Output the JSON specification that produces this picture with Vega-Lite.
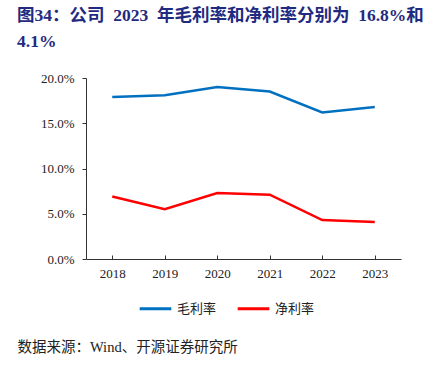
{
  "$schema": "https://vega.github.io/schema/vega-lite/v6.json",
  "width": 315,
  "height": 181,
  "autosize": {"type": "none"},
  "padding": {"left": 86, "top": 78, "right": 35, "bottom": 108},
  "background": "white",
  "config": {"view": {"stroke": null}},
  "title": {
    "text": ["图34：公司\u00a0\u00a02023\u00a0\u00a0年毛利率和净利率分别为\u00a0\u00a016.8%和", "4.1%"],
    "anchor": "start",
    "frame": "group",
    "font": "Liberation Serif, Noto Sans CJK SC",
    "fontSize": 17.5,
    "fontWeight": "bold",
    "color": "#1F2A80",
    "lineHeight": 26,
    "dx": -69,
    "offset": 22
  },
  "data": {
    "values": [
      {"year": "2018", "type": "毛利率", "value": 0.179},
      {"year": "2019", "type": "毛利率", "value": 0.181},
      {"year": "2020", "type": "毛利率", "value": 0.190},
      {"year": "2021", "type": "毛利率", "value": 0.185},
      {"year": "2022", "type": "毛利率", "value": 0.162},
      {"year": "2023", "type": "毛利率", "value": 0.168},
      {"year": "2018", "type": "净利率", "value": 0.069},
      {"year": "2019", "type": "净利率", "value": 0.055},
      {"year": "2020", "type": "净利率", "value": 0.073},
      {"year": "2021", "type": "净利率", "value": 0.071},
      {"year": "2022", "type": "净利率", "value": 0.043},
      {"year": "2023", "type": "净利率", "value": 0.041}
    ]
  },
  "mark": {"type": "line", "strokeWidth": 2.5},
  "encoding": {
    "x": {
      "field": "year",
      "type": "ordinal",
      "scale": {"paddingInner": 0, "paddingOuter": 0},
      "axis": {
        "title": "数据来源：Wind、开源证券研究所",
        "titleFont": "Liberation Serif, Noto Sans CJK SC",
        "titleFontSize": 14.5,
        "titleFontWeight": "normal",
        "titleColor": "#222222",
        "titleAnchor": "start",
        "titleAlign": "left",
        "titleBaseline": "middle",
        "titleX": -69,
        "titleY": 88,
        "labelAngle": 0,
        "labelFont": "Liberation Serif",
        "labelFontSize": 13,
        "labelColor": "#222222",
        "labelPadding": 12,
        "bandPosition": 0,
        "tickSize": -4,
        "tickColor": "#333333",
        "domainColor": "#333333",
        "grid": false
      }
    },
    "y": {
      "field": "value",
      "type": "quantitative",
      "scale": {"domain": [0, 0.2], "nice": false},
      "axis": {
        "title": null,
        "format": ".1%",
        "values": [0, 0.05, 0.1, 0.15, 0.2],
        "labelFont": "Liberation Serif",
        "labelFontSize": 13,
        "labelColor": "#222222",
        "labelPadding": 8,
        "tickSize": 4,
        "tickColor": "#333333",
        "domainColor": "#333333",
        "grid": false
      }
    },
    "color": {
      "field": "type",
      "type": "nominal",
      "scale": {"domain": ["毛利率", "净利率"], "range": ["#0070C0", "#FF0000"]},
      "legend": {
        "title": null,
        "orient": "none",
        "legendX": 52,
        "legendY": 213,
        "direction": "horizontal",
        "symbolType": "stroke",
        "symbolSize": 1000,
        "symbolStrokeWidth": 3,
        "labelFont": "Noto Sans CJK SC",
        "labelFontSize": 13,
        "labelOffset": 4,
        "labelColor": "#222222",
        "columnPadding": 14
      }
    }
  }
}
